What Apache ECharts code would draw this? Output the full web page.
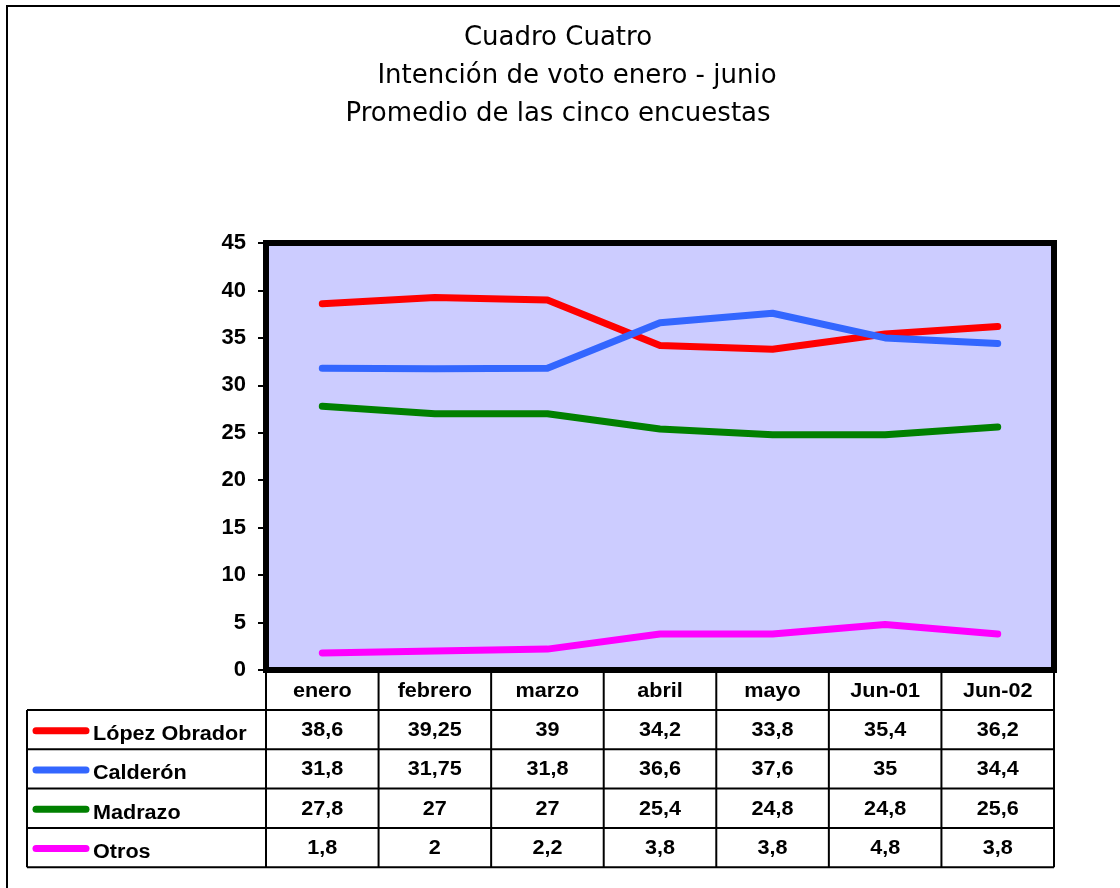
<!DOCTYPE html>
<html>
<head>
<meta charset="utf-8">
<script src="https://cdn.jsdelivr.net/npm/echarts@6/dist/echarts.min.js"></script>
<style>
  html, body { margin: 0; padding: 0; background: #fff; }
  #chart { width: 1120px; height: 888px; }
</style>
</head>
<body>
<div id="chart"></div>
<script>
// datos del cuadro
const months = ['enero', 'febrero', 'marzo', 'abril', 'mayo', 'Jun-01', 'Jun-02'];
const seriesNames = ['López Obrador', 'Calderón', 'Madrazo', 'Otros'];
const lopez = [38.6, 39.25, 39, 34.2, 33.8, 35.4, 36.2];
const calderon = [31.8, 31.75, 31.8, 36.6, 37.6, 35, 34.4];
const madrazo = [27.8, 27, 27, 25.4, 24.8, 24.8, 25.6];
const otros = [1.8, 2, 2.2, 3.8, 3.8, 4.8, 3.8];
const titleLines = ['Cuadro Cuatro', 'Intención de voto enero - junio', 'Promedio de las cinco encuestas'];

const colors = ['#ff0000', '#3366ff', '#008000', '#ff00ff'];
const allData = [lopez, calderon, madrazo, otros];

const chart = echarts.init(document.getElementById('chart'));

// formato con coma decimal
function fmt(v) {
    return String(v).replace('.', ',');
}

const option = {
    animation: false,
    backgroundColor: '#fff',
    grid: {
        left: 266,
        right: 66,
        top: 243,
        bottom: 218,
        show: true,
        backgroundColor: '#ccccff',
        borderColor: '#000',
        borderWidth: 6
    },
    xAxis: {
        type: 'category',
        data: months,
        boundaryGap: true,
        axisLine: { show: false },
        axisTick: { show: false },
        axisLabel: { show: false }
    },
    yAxis: {
        type: 'value',
        min: 0,
        max: 45,
        interval: 5,
        axisLine: { show: false },
        axisTick: { show: true, length: 8, lineStyle: { color: '#000', width: 2 } },
        splitLine: { show: false },
        axisLabel: {
            margin: 20,
            color: '#000',
            fontFamily: 'Liberation Sans',
            fontWeight: 'bold',
            fontSize: 22
        }
    },
    series: seriesNames.map(function(name, i) {
        return {
            name: name,
            type: 'line',
            data: allData[i],
            showSymbol: false,
            symbol: 'none',
            lineStyle: { color: colors[i], width: 7, cap: 'round', join: 'round' },
            z: 3
        };
    })
};

chart.setOption(option);

// texto con un poco de ensanche horizontal
function wideText(text, x, y, align, font) {
    return {
        type: 'text',
        x: x,
        y: y,
        scaleX: 1.08,
        style: { text: text, x: 0, y: 0, align: align, verticalAlign: 'middle', font: font, fill: '#000' }
    };
}

// tabla de datos bajo el gráfico
function buildTable() {
    const centers = months.map(function(m) {
        return chart.convertToPixel({ xAxisIndex: 0 }, m);
    });
    const band = centers[1] - centers[0];
    const colLeft = centers[0] - band / 2;
    const colRight = centers[centers.length - 1] + band / 2;
    const top = chart.convertToPixel({ yAxisIndex: 0 }, 0);
    const headerH = 40;
    const rowH = 39.3;
    const legendLeft = 27;
    const bodyTop = top + headerH;
    const bottom = bodyTop + rowH * seriesNames.length;
    const font = 'bold 20px "Liberation Sans", Arial, sans-serif';
    const stroke = { stroke: '#000', lineWidth: 2 };

    const els = [];
    // títulos
    const titleX = [558, 577, 558];
    titleLines.forEach(function(t, i) {
        els.push({
            type: 'text',
            style: {
                text: t, x: titleX[i], y: 38 + 38 * i, align: 'center', verticalAlign: 'middle',
                font: '26px "DejaVu Sans", sans-serif', fill: '#000'
            }
        });
    });
    // líneas verticales de columnas
    for (let i = 0; i <= months.length; i++) {
        const x = colLeft + band * i;
        els.push({ type: 'line', shape: { x1: x, y1: top, x2: x, y2: bottom }, style: stroke });
    }
    // borde izquierdo de la columna de leyenda
    els.push({ type: 'line', shape: { x1: legendLeft, y1: bodyTop, x2: legendLeft, y2: bottom }, style: stroke });
    // líneas horizontales
    for (let r = 0; r <= seriesNames.length; r++) {
        const y = bodyTop + rowH * r;
        els.push({ type: 'line', shape: { x1: legendLeft, y1: y, x2: colRight, y2: y }, style: stroke });
    }
    // encabezados
    months.forEach(function(m, i) {
        els.push(wideText(m, centers[i], top + headerH / 2 + 1, 'center', font));
    });
    // filas
    seriesNames.forEach(function(name, r) {
        const cy = bodyTop + rowH * r + rowH / 2;
        els.push({
            type: 'line',
            shape: { x1: legendLeft + 9, y1: cy + 1, x2: legendLeft + 59, y2: cy + 1 },
            style: { stroke: colors[r], lineWidth: 7, lineCap: 'round' }
        });
        els.push(wideText(name, legendLeft + 66, cy + 5, 'left', font));
        allData[r].forEach(function(v, i) {
            els.push(wideText(fmt(v), centers[i], cy + 1, 'center', font));
        });
    });
    // marco exterior
    els.push({
        type: 'rect',
        shape: { x: 7, y: 6, width: 1140, height: 920 },
        style: { fill: 'none', stroke: '#000', lineWidth: 2 }
    });

    chart.setOption({ graphic: els });
}

buildTable();
</script>
</body>
</html>
